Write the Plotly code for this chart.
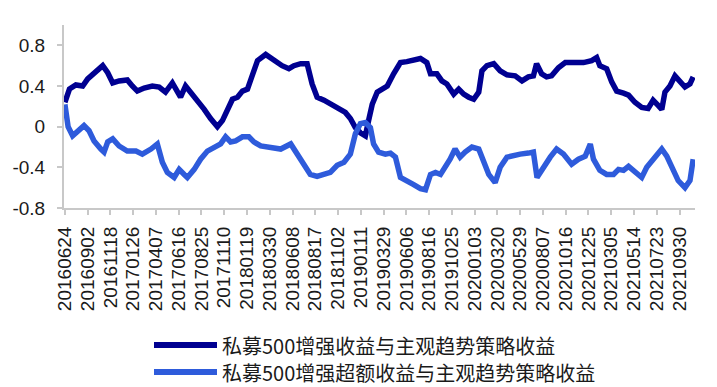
import plotly.graph_objects as go

# ---- data (x = trading-day index, 50 trading days between labelled dates) ----
tick_labels = ["20160624", "20160902", "20161118", "20170126", "20170407", "20170616",
               "20170825", "20171110", "20180119", "20180330", "20180608", "20180817",
               "20181102", "20190111", "20190329", "20190606", "20190816", "20191025",
               "20200103", "20200320", "20200529", "20200807", "20201016", "20201225",
               "20210305", "20210514", "20210723", "20210930"]
tick_step = 50

name_a = "私募500增强收益与主观趋势策略收益"
x_a = [0, 10, 24, 39, 50, 64, 83, 94, 105, 119, 137, 148, 159, 174, 192, 207, 221, 236,
       247, 254, 265, 276, 291, 306, 320, 335, 346, 357, 368, 379, 390, 401, 412, 423,
       441, 459, 477, 492, 503, 518, 532, 543, 554, 569, 583, 602, 616, 627, 638, 649,
       660, 667, 675, 686,
       708, 722, 737, 751, 766, 781, 795, 803, 817, 828, 839, 854, 865, 876, 887, 898,
       909, 916, 927, 942, 956, 971, 989, 1004, 1018, 1029, 1036, 1047, 1058, 1069,
       1084, 1099, 1117, 1139, 1157, 1168, 1175, 1190, 1201, 1212, 1227, 1238, 1252,
       1267, 1281, 1292, 1303, 1311, 1318, 1329, 1340, 1351, 1362, 1373, 1380]
y_a = [0.24, 0.37, 0.41, 0.40, 0.47, 0.53, 0.60, 0.53, 0.43, 0.45, 0.46, 0.40, 0.35,
       0.38, 0.40, 0.39, 0.34, 0.43, 0.35, 0.29, 0.40, 0.34, 0.26, 0.17, 0.08, 0.00,
       0.06, 0.16, 0.27, 0.29, 0.35, 0.37, 0.52, 0.65, 0.71, 0.65, 0.60, 0.57, 0.60,
       0.62, 0.62, 0.42, 0.29, 0.26, 0.22, 0.17, 0.14, 0.08, -0.01, -0.06, -0.09, 0.06,
       0.22, 0.34,
       0.40, 0.52, 0.63, 0.64, 0.65, 0.67, 0.63, 0.52, 0.52, 0.45, 0.42, 0.32, 0.37,
       0.32, 0.29, 0.27, 0.34, 0.55, 0.60, 0.62, 0.55, 0.51, 0.50, 0.45, 0.49, 0.50,
       0.62, 0.52, 0.49, 0.50, 0.58, 0.63, 0.63, 0.63, 0.65, 0.68, 0.60, 0.57, 0.44,
       0.35, 0.33, 0.31, 0.24, 0.19, 0.18, 0.26, 0.21, 0.17, 0.34, 0.40, 0.50, 0.45,
       0.39, 0.42, 0.49]

name_b = "私募500增强超额收益与主观趋势策略收益"
x_b = [0, 7, 17, 28, 42, 53, 64, 79, 86, 94, 105, 119, 137, 156, 170, 189, 203, 214,
       225, 240, 251, 262, 269, 284, 298, 313, 327, 342, 353, 364, 375, 390, 404, 415,
       430, 444, 459, 474, 496, 510, 525, 539, 554, 569, 583, 598, 613, 627, 638, 649,
       660, 671, 678, 689, 704,
       715, 726, 737, 751, 766, 781, 792, 803, 814, 825, 836, 846, 857, 868, 879, 894,
       909, 920, 931, 945, 956, 971, 985, 1000, 1018, 1029, 1037, 1051, 1066, 1080,
       1095, 1113, 1128, 1143, 1154, 1161, 1175, 1190, 1205, 1216, 1227, 1238, 1252,
       1267, 1278, 1292, 1311, 1322, 1333, 1347, 1362, 1373, 1380]
y_b = [0.22, 0.00, -0.09, -0.04, 0.01, -0.04, -0.14, -0.22, -0.25, -0.15, -0.12, -0.19,
       -0.24, -0.24, -0.27, -0.22, -0.17, -0.35, -0.45, -0.50, -0.42, -0.47, -0.50,
       -0.42, -0.32, -0.24, -0.20, -0.17, -0.10, -0.15, -0.14, -0.10, -0.10, -0.15,
       -0.19, -0.20, -0.20, -0.22, -0.17, -0.27, -0.38, -0.47, -0.49, -0.47, -0.45,
       -0.38, -0.35, -0.27, -0.07, 0.03, 0.04, -0.01, -0.17, -0.25, -0.27,
       -0.26, -0.30, -0.50, -0.53, -0.57, -0.61, -0.62, -0.47, -0.45, -0.47, -0.40,
       -0.32, -0.22, -0.30, -0.25, -0.20, -0.22, -0.33, -0.47, -0.55, -0.40, -0.30,
       -0.28, -0.27, -0.26, -0.25, -0.50, -0.40, -0.30, -0.22, -0.27, -0.37, -0.32,
       -0.29, -0.17, -0.32, -0.43, -0.47, -0.47, -0.42, -0.43, -0.39, -0.45, -0.50,
       -0.40, -0.32, -0.22, -0.29, -0.40, -0.53, -0.60, -0.53, -0.32]

y_ticks = [-0.8, -0.4, 0, 0.4, 0.8]
y_tick_text = ["-0.8", "-0.4", "0", "0.4", "0.8"]

# ---- style ----
W, H = 717, 387
ML, MR, MT, MB = 64, 22, 25, 179
col_a = "#000091"
col_b = "#2E5BDB"
axis_col = "#C8C8C8"
lw = 5.5

fig = go.Figure()
fig.add_trace(go.Scatter(x=x_a, y=y_a, mode="lines", name=name_a,
                         line=dict(color=col_a, width=lw), showlegend=False))
fig.add_trace(go.Scatter(x=x_b, y=y_b, mode="lines", name=name_b,
                         line=dict(color=col_b, width=lw), showlegend=False))

tick_vals = [i * tick_step for i in range(len(tick_labels))]

fig.update_layout(
    width=W, height=H,
    margin=dict(l=ML, r=MR, t=MT, b=MB, autoexpand=False),
    paper_bgcolor="white", plot_bgcolor="white",
    font=dict(family="Liberation Sans, Arial, sans-serif", color="#1a1a1a"),
    xaxis=dict(range=[-2, 1384], tickvals=tick_vals, ticktext=tick_labels,
               tickangle=-90, tickfont=dict(size=19), showgrid=False, zeroline=False,
               showline=True, linecolor=axis_col, linewidth=2,
               ticks="outside", ticklen=5, tickcolor=axis_col, tickwidth=1.5,
               ticklabelstandoff=4),
    yaxis=dict(range=[-0.8, 1.0], tickvals=y_ticks, ticktext=y_tick_text,
               tickfont=dict(size=19), showgrid=False, zeroline=False,
               showline=True, linecolor=axis_col, linewidth=2,
               ticks="outside", ticklen=5, tickcolor=axis_col, tickwidth=1.5,
               ticklabelstandoff=8),
)

# custom legend (long line samples like the original)
pw, ph = W - ML - MR, H - MT - MB
def px(x):
    return (x - ML) / pw
def py(y):
    return (H - MB - y) / ph

for name, col, yy in [(name_a, col_a, 345), (name_b, col_b, 372)]:
    fig.add_shape(type="line", xref="paper", yref="paper",
                  x0=px(154), x1=px(217), y0=py(yy), y1=py(yy),
                  line=dict(color=col, width=6))
    fig.add_annotation(xref="paper", yref="paper", x=px(220), y=py(yy),
                       text=name, showarrow=False, xanchor="left", yanchor="middle",
                       font=dict(family="Noto Sans CJK SC", size=20, color="#1a1a1a"))

fig.write_html("out.html", config={"displayModeBar": False},
               post_script="document.body.style.margin='0';")
